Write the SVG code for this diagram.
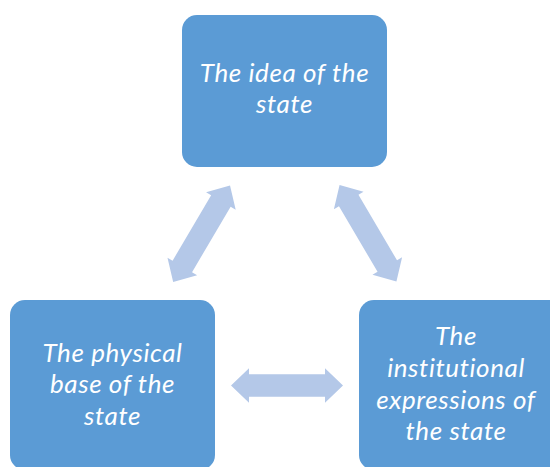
<svg xmlns="http://www.w3.org/2000/svg" xmlns:xlink="http://www.w3.org/1999/xlink" width="550" height="467" viewBox="0 0 550 467">
<style>
.box{fill:#5B9BD5;}
.lbl{font-family:Lato,"Open Sans","Liberation Sans",sans-serif;font-style:italic;font-size:26px;letter-spacing:0.6px;fill:#FFFFFF;text-anchor:middle;}
.arr{fill:#B4C8E8;}
</style>
<defs>
<path id="dbl" d="M-56,0 L-38,-17.2 L-38,-11.3 L38,-11.3 L38,-17.2 L56,0 L38,17.2 L38,11.3 L-38,11.3 L-38,17.2 Z"/>
</defs>
<rect width="550" height="467" fill="#FFFFFF"/>
<g id="connectors">
<use xlink:href="#dbl" class="arr" transform="translate(201.6,233.7) rotate(-59.5)"/>
<use xlink:href="#dbl" class="arr" transform="translate(368,233.3) rotate(59.5)"/>
<use xlink:href="#dbl" class="arr" transform="translate(287,385.5)"/>
</g>
<g id="node-idea">
<rect class="box" x="182" y="15" width="205" height="152" rx="15"/>
<text class="lbl" x="284.5" y="81.7">The idea of the</text>
<text class="lbl" x="284.5" y="113.3">state</text>
</g>
<g id="node-physical">
<rect class="box" x="10" y="300" width="205" height="170" rx="15"/>
<text class="lbl" x="112.5" y="361.7">The physical</text>
<text class="lbl" x="112.5" y="393.3">base of the</text>
<text class="lbl" x="112.5" y="425">state</text>
</g>
<g id="node-institutional">
<rect class="box" x="359" y="300" width="205" height="170" rx="15"/>
<text class="lbl" x="456" y="345">The</text>
<text class="lbl" x="456" y="377">institutional</text>
<text class="lbl" x="456" y="408.5">expressions of</text>
<text class="lbl" x="456" y="440">the state</text>
</g>
</svg>
